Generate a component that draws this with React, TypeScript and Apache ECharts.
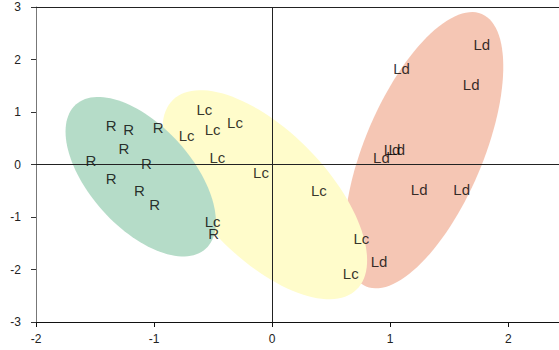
import React, { useEffect, useRef } from "react";
import * as echarts from "echarts";

// Axis ticks
const xTicks = [-2, -1, 0, 1, 2];
const xAxisEnd = 2.43;
const yTicks = [-3, -2, -1, 0, 1, 2, 3];

// Group scores (component 1, component 2)
const groupR: [number, number][] = [
  [-1.36, 0.73], [-1.21, 0.66], [-0.96, 0.7], [-1.25, 0.3], [-1.53, 0.07],
  [-1.06, 0.01], [-1.36, -0.28], [-1.12, -0.51], [-0.99, -0.77], [-0.49, -1.32],
];
const groupLc: [number, number][] = [
  [-0.57, 1.04], [-0.72, 0.55], [-0.5, 0.66], [-0.31, 0.8], [-0.46, 0.12],
  [-0.09, -0.16], [0.4, -0.5], [-0.5, -1.1], [0.76, -1.42], [0.67, -2.08],
];
const groupLd: [number, number][] = [
  [1.78, 2.28], [1.1, 1.82], [1.69, 1.51], [0.93, 0.12], [1.02, 0.27],
  [1.06, 0.27], [1.25, -0.49], [1.61, -0.49], [0.91, -1.85],
];

// Confidence ellipses: centre, and the two half-axis vectors (data units)
const ellipseNames = ["Ld", "Lc", "R"];
const ellipseCenters: [number, number][] = [[1.286, 0.272], [-0.062, -0.575], [-1.113, -0.232]];
const ellipseMajor: [number, number][] = [[0.49, 2.594], [0.777, -1.808], [0.55, -1.373]];
const ellipseMinor: [number, number][] = [[0.46, -0.44], [0.384, 0.834], [0.321, 0.65]];
const ellipseColors = ["#f5c6b4", "#fffccb", "#b5dcc8"];

const FONT = "Liberation Sans, Arial, sans-serif";

function textSeries(name: string, pts: [number, number][]) {
  return {
    name,
    type: "scatter",
    symbolSize: 1,
    itemStyle: { color: "transparent" },
    z: 4,
    data: pts,
    label: {
      show: true,
      position: [0, 0],
      align: "center",
      verticalAlign: "middle",
      fontSize: 15,
      fontFamily: FONT,
      color: "#000000",
      textBorderWidth: 0,
      textBorderColor: "transparent",
      formatter: () => name,
    },
    labelLayout: { hideOverlap: false },
    silent: true,
  };
}

export default function App() {
  const ref = useRef<HTMLDivElement>(null);

  useEffect(() => {
    if (!ref.current) return;
    const chart = echarts.init(ref.current, undefined, { renderer: "svg" });

    const ellipseData = ellipseNames.map((n, i) => ({
      name: n,
      value: [
        ellipseCenters[i][0], ellipseCenters[i][1],
        ellipseMajor[i][0], ellipseMajor[i][1],
        ellipseMinor[i][0], ellipseMinor[i][1],
      ],
    }));

    chart.setOption({
      animation: false,
      backgroundColor: "#ffffff",
      grid: { left: 36, top: 7, right: 0, bottom: 28 },
      xAxis: {
        type: "value",
        min: xTicks[0],
        max: xAxisEnd,
        interval: 1,
        axisLine: { onZero: false, lineStyle: { color: "#111", width: 1 } },
        axisTick: {
          show: true,
          length: 5,
          customValues: xTicks,
          lineStyle: { color: "#111" },
        },
        axisLabel: {
          margin: 11,
          fontSize: 12,
          color: "#222",
          fontFamily: FONT,
          customValues: xTicks,
        },
        splitLine: { show: false },
      },
      yAxis: {
        type: "value",
        min: yTicks[0],
        max: yTicks[yTicks.length - 1],
        interval: 1,
        axisLine: { onZero: false, lineStyle: { color: "#777", width: 1 } },
        axisTick: { show: true, length: 5, lineStyle: { color: "#333" } },
        axisLabel: {
          margin: 15,
          fontSize: 12,
          color: "#222",
          fontFamily: FONT,
        },
        splitLine: { show: false },
      },
      series: [
        {
          type: "custom",
          z: 1,
          silent: true,
          encode: { x: 0, y: 1 },
          data: ellipseData,
          renderItem: (params: any, api: any) => {
            const cx = api.value(0), cy = api.value(1);
            const ux = api.value(2), uy = api.value(3);
            const vx = api.value(4), vy = api.value(5);
            const pts: number[][] = [];
            const n = 120;
            for (let k = 0; k < n; k++) {
              const t = (2 * Math.PI * k) / n;
              const c = Math.cos(t), s = Math.sin(t);
              pts.push(api.coord([cx + ux * c + vx * s, cy + uy * c + vy * s]));
            }
            return {
              type: "polygon",
              shape: { points: pts },
              style: { fill: ellipseColors[params.dataIndex], stroke: "none" },
            };
          },
        },
        {
          // zero lines through the origin, plus the frame line along the top
          type: "scatter",
          z: 3,
          data: [],
          silent: true,
          markLine: {
            silent: true,
            symbol: "none",
            label: { show: false },
            lineStyle: { type: "solid", color: "#222", width: 1 },
            data: [{ xAxis: 0 }, { yAxis: 0 }, { yAxis: yTicks[yTicks.length - 1] }],
          },
        },
        textSeries("R", groupR),
        textSeries("Lc", groupLc),
        textSeries("Ld", groupLd),
      ],
    });

    return () => chart.dispose();
  }, []);

  return (
    <div
      ref={ref}
      style={{ position: "absolute", left: 0, top: 0, width: 559, height: 350 }}
    />
  );
}
